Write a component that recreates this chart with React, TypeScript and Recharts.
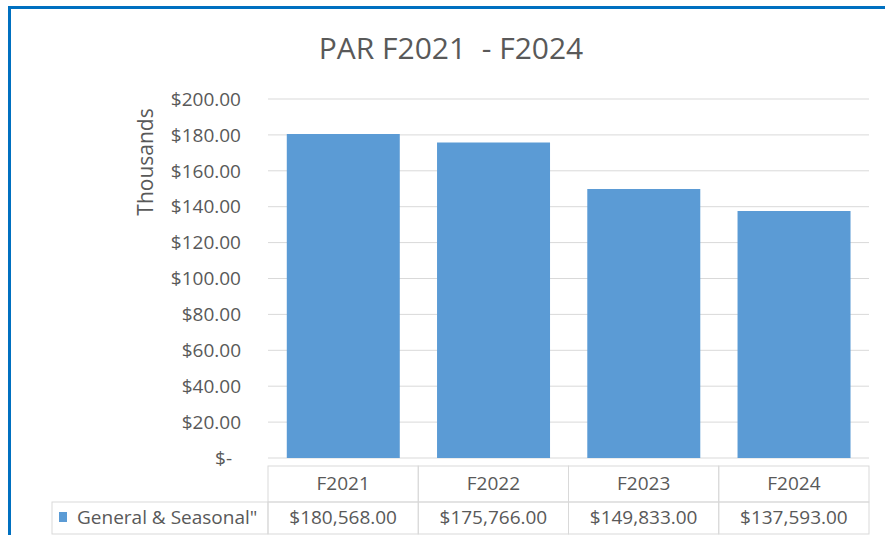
import { Bar, BarChart, CartesianGrid, XAxis, YAxis } from "recharts";

const years = ["F2021", "F2022", "F2023", "F2024"];
const parValues = [180568, 175766, 149833, 137593];
const yTicks = [0, 20, 40, 60, 80, 100, 120, 140, 160, 180, 200];
const seriesName = 'General & Seasonal"';
const title = "PAR F2021  - F2024";

const data = years.map((year, i) => ({
  year,
  par: parValues[i] / 1000,
}));

const FONT = "'Open Sans', sans-serif";
const TEXT = "#595959";
const LINE = "#d9d9d9";
const BAR = "#5b9bd5";

const money = (v: number) =>
  "$" +
  v.toLocaleString("en-US", { minimumFractionDigits: 2, maximumFractionDigits: 2 });

const yLabel = (v: number) => (v === 0 ? "$-" : money(v));

// accounting style: the "$-" for zero sits a bit left of the other labels
function MoneyTick(props: any) {
  const { x, y, payload } = props;
  const shift = payload.value === 0 ? 9 : 0;
  return (
    <text
      x={x - shift}
      y={y}
      dy="0.355em"
      textAnchor="end"
      fill={TEXT}
      fontSize={19}
      fontFamily={FONT}
    >
      {yLabel(payload.value)}
    </text>
  );
}

// x axis ticks draw the data table under the bars (header row + values row)
function TableTick(props: any) {
  const { x, y, payload } = props;
  const half = payload.offset || 75;
  const left = x - half;
  const rowH = 34;
  const idx = payload.index;
  return (
    <g>
      <rect x={left} y={y} width={half * 2} height={rowH + 2} fill="none" stroke={LINE} />
      <text x={x} y={y + 24} textAnchor="middle" fill={TEXT} fontSize={19} fontFamily={FONT}>
        {payload.value}
      </text>
      <rect x={left} y={y + rowH + 2} width={half * 2} height={rowH - 2} fill="none" stroke={LINE} />
      <text x={x} y={y + 58} textAnchor="middle" fill={TEXT} fontSize={19} fontFamily={FONT}>
        {money(parValues[idx])}
      </text>
      {idx === 0 && (
        <g>
          <rect x={52} y={y + rowH + 2} width={left - 52} height={rowH - 2} fill="none" stroke={LINE} />
          <rect x={59} y={y + 46} width={8} height={10} fill={BAR} />
          <text x={77} y={y + 58} fill={TEXT} fontSize={19} fontFamily={FONT}>
            {seriesName}
          </text>
        </g>
      )}
    </g>
  );
}

function ThousandsLabel(props: any) {
  const { viewBox } = props;
  const cy = viewBox.y + 63;
  return (
    <text
      x={153}
      y={cy}
      transform={`rotate(-90 153 ${cy})`}
      textAnchor="middle"
      fill={TEXT}
      fontSize={21}
      fontFamily={FONT}
    >
      Thousands
    </text>
  );
}

export default function App() {
  return (
    <div style={{ position: "absolute", left: 0, top: 0, width: 885, height: 535, background: "#fff" }}>
      <div
        style={{
          position: "absolute",
          left: 8,
          top: 6,
          width: 877,
          height: 529,
          borderTop: "3px solid #0070c0",
          borderLeft: "3px solid #0070c0",
          boxSizing: "border-box",
        }}
      />
      <svg width={885} height={90} style={{ position: "absolute", left: 0, top: 0 }}>
        <text
          x={451}
          y={59}
          textAnchor="middle"
          fill={TEXT}
          fontSize={30}
          fontFamily={FONT}
          style={{ whiteSpace: "pre" }}
        >
          {title}
        </text>
      </svg>
      <div style={{ position: "absolute", left: 0, top: 0 }}>
        <BarChart
          width={885}
          height={535}
          data={data}
          margin={{ top: 99, right: 16, left: 0, bottom: 7 }}
          barCategoryGap="12.5%"
        >
          <CartesianGrid vertical={false} stroke={LINE} />
          <XAxis
            dataKey="year"
            axisLine={false}
            tickLine={false}
            height={70}
            interval={0}
            tick={<TableTick />}
          />
          <YAxis
            width={268}
            domain={[0, 200]}
            ticks={yTicks}
            axisLine={false}
            tickLine={false}
            tickSize={0}
            tickMargin={27}
            tick={<MoneyTick />}
            label={<ThousandsLabel />}
          />
          <Bar dataKey="par" fill={BAR} isAnimationActive={false} />
        </BarChart>
      </div>
    </div>
  );
}
